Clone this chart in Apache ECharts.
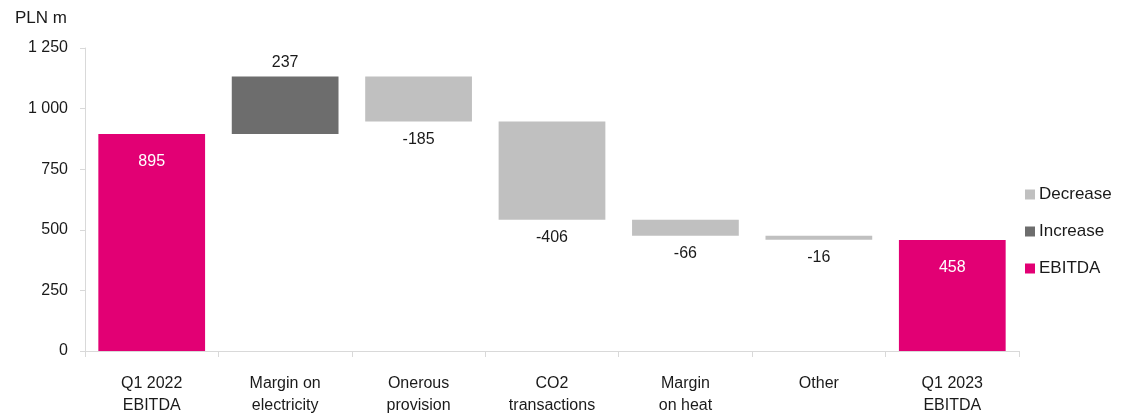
<!DOCTYPE html>
<html>
<head>
<meta charset="utf-8">
<script src="https://cdn.jsdelivr.net/npm/echarts@6/dist/echarts.min.js"></script>
<style>
  html, body { margin: 0; padding: 0; background: #fff; }
  #chart { width: 1121px; height: 417px; }
</style>
</head>
<body>
<div id="chart"></div>
<script>
// EBITDA bridge, PLN m
const categories = ['Q1 2022\nEBITDA', 'Margin on\nelectricity', 'Onerous\nprovision', 'CO2\ntransactions', 'Margin\non heat', 'Other', 'Q1 2023\nEBITDA'];
const changes = [895, 237, -185, -406, -66, -16, 458];
const kinds = ['total', 'delta', 'delta', 'delta', 'delta', 'delta', 'total'];
const yTicks = [0, 250, 500, 750, 1000, 1250];

const FONT = '"Liberation Sans", Arial, sans-serif';
const COLORS = { Decrease: '#c0c0c0', Increase: '#6d6d6d', EBITDA: '#e20074' };

// Split the bridge into an invisible base plus the visible segment of each step
const base = [], dec = [], inc = [], tot = [];
let running = 0;
changes.forEach((v, i) => {
  if (kinds[i] === 'total') {
    running = v;
    base.push(0); tot.push(v); dec.push('-'); inc.push('-');
  } else if (v >= 0) {
    base.push(running); inc.push(v); dec.push('-'); tot.push('-');
    running += v;
  } else {
    running += v;
    base.push(running); dec.push(-v); inc.push('-'); tot.push('-');
  }
});

const fmt = n => String(n).replace(/\B(?=(\d{3})+(?!\d))/g, ' ');

const chart = echarts.init(document.getElementById('chart'), null, { renderer: 'canvas' });
chart.setOption({
  animation: false,
  textStyle: { fontFamily: FONT },
  title: {
    text: 'PLN m', left: 10, top: 5,
    textStyle: { fontFamily: FONT, fontSize: 17, fontWeight: 'normal', color: '#1a1a1a' }
  },
  legend: {
    orient: 'vertical', left: 1020, top: 181, itemGap: 20,
    itemWidth: 10, itemHeight: 10, icon: 'rect',
    data: ['Decrease', 'Increase', 'EBITDA'],
    textStyle: { fontFamily: FONT, fontSize: 17, color: '#1a1a1a', padding: [0, 0, 0, -1] }
  },
  grid: { left: 85, right: 102, top: 48, bottom: 65 },
  xAxis: {
    type: 'category', data: categories,
    axisLine: { lineStyle: { color: '#d9d9d9' } },
    axisTick: { show: true, length: 6, lineStyle: { color: '#d9d9d9' } },
    axisLabel: { fontFamily: FONT, fontSize: 16, color: '#1a1a1a', margin: 22, lineHeight: 22, interval: 0 }
  },
  yAxis: {
    type: 'value', min: 0, max: 1250, interval: 250,
    axisLine: { show: true, lineStyle: { color: '#d9d9d9' } },
    axisTick: { show: true, length: 5, lineStyle: { color: '#d9d9d9' } },
    splitLine: { show: false },
    axisLabel: {
      fontFamily: FONT, fontSize: 16, color: '#1a1a1a', margin: 17,
      customValues: yTicks, formatter: v => fmt(v)
    }
  },
  series: [
    {
      name: 'base', type: 'bar', stack: 'bridge', data: base, barWidth: '80%',
      itemStyle: { color: 'transparent' }, silent: true, legendHoverLink: false
    },
    {
      name: 'Decrease', type: 'bar', stack: 'bridge', data: dec,
      itemStyle: { color: COLORS.Decrease },
      label: {
        show: true, position: 'bottom', distance: 10, fontFamily: FONT, fontSize: 16, color: '#1a1a1a',
        formatter: p => '-' + fmt(p.value)
      }
    },
    {
      name: 'Increase', type: 'bar', stack: 'bridge', data: inc,
      itemStyle: { color: COLORS.Increase },
      label: {
        show: true, position: 'top', distance: 6, fontFamily: FONT, fontSize: 16, color: '#1a1a1a',
        formatter: p => fmt(p.value)
      }
    },
    {
      name: 'EBITDA', type: 'bar', stack: 'bridge', data: tot,
      itemStyle: { color: COLORS.EBITDA },
      label: {
        show: true, position: 'insideTop', distance: 20, fontFamily: FONT, fontSize: 16, color: '#ffffff',
        formatter: p => fmt(p.value)
      }
    }
  ]
});
</script>
</body>
</html>
